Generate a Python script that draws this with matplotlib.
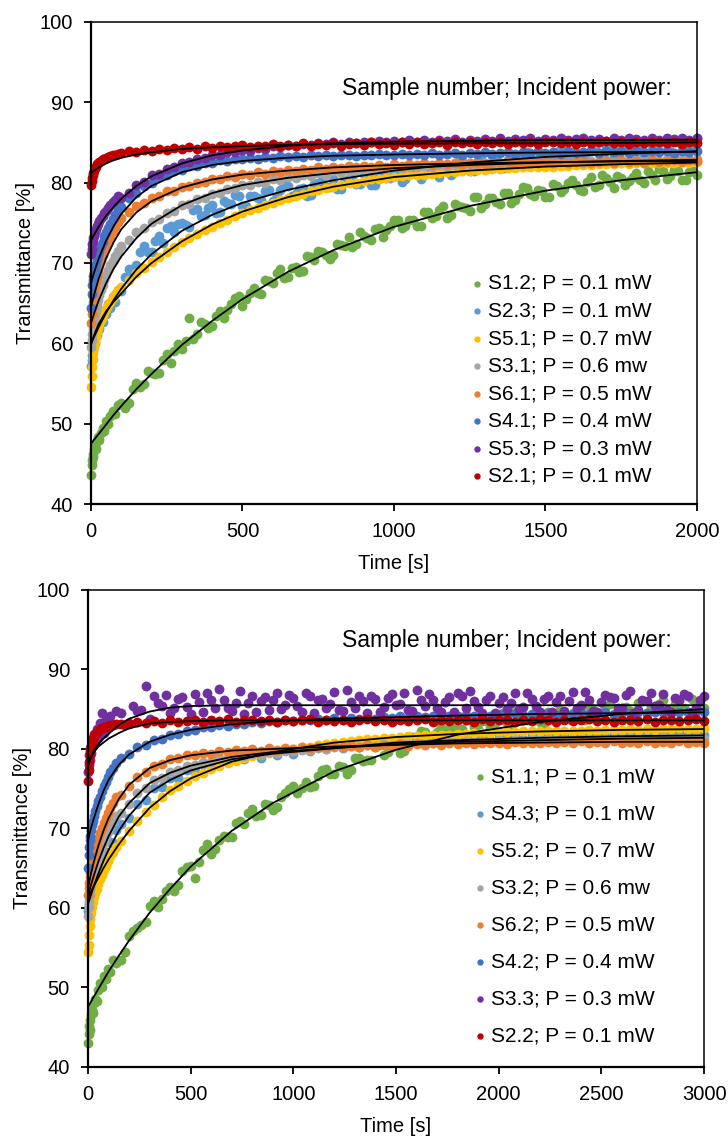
import matplotlib
matplotlib.use("Agg")
import matplotlib.pyplot as plt

plt.rcParams['font.family'] = ['Liberation Sans', 'DejaVu Sans']

# ---------------- top panel (0-2000 s) ----------------
top_time = [0, 2, 4, 6, 8, 10, 13, 16, 20, 24, 28, 33, 38, 44, 50, 57, 64, 72, 80, 90,
            100, 125, 150, 175, 200, 225, 250, 275, 300, 325, 350, 375, 400, 425, 450, 475,
            500, 525, 550, 575, 600, 625, 650, 675, 700, 725, 750, 775, 800, 825, 850, 875,
            900, 925, 950, 975, 1000, 1025, 1050, 1075, 1100, 1125, 1150, 1175, 1200, 1225,
            1250, 1275, 1300, 1325, 1350, 1375, 1400, 1425, 1450, 1475, 1500, 1525, 1550,
            1575, 1600, 1625, 1650, 1675, 1700, 1725, 1750, 1775, 1800, 1825, 1850, 1875,
            1900, 1925, 1950, 1975, 2000]
# extra readings of the two noisiest top series, in between the main ones
top_time_mid = [112.5, 137.5, 162.5, 187.5, 212.5, 237.5, 262.5, 287.5, 312.5, 337.5, 362.5, 387.5,
                412.5, 437.5, 462.5, 487.5, 512.5, 537.5, 562.5, 587.5, 612.5, 637.5, 662.5, 687.5,
                712.5, 737.5, 762.5, 787.5, 812.5, 837.5, 862.5, 887.5, 912.5, 937.5, 962.5, 987.5,
                1012.5, 1037.5, 1062.5, 1087.5, 1112.5, 1137.5, 1162.5, 1187.5, 1212.5, 1237.5,
                1262.5, 1287.5, 1312.5, 1337.5, 1362.5, 1387.5, 1412.5, 1437.5, 1462.5, 1487.5,
                1512.5, 1537.5, 1562.5, 1587.5, 1612.5, 1637.5, 1662.5, 1687.5, 1712.5, 1737.5,
                1762.5, 1787.5, 1812.5, 1837.5, 1862.5, 1887.5, 1912.5, 1937.5, 1962.5, 1987.5]
top_fit_time = [0, 10, 25, 50, 75, 100, 150, 200, 300, 400, 500, 650, 800, 1000, 1250, 1500, 1750, 2000]

top_labels = ["S1.2; P = 0.1 mW", "S2.3; P = 0.1 mW", "S5.1; P = 0.7 mW", "S3.1; P = 0.6 mw",
              "S6.1; P = 0.5 mW", "S4.1; P = 0.4 mW", "S5.3; P = 0.3 mW", "S2.1; P = 0.1 mW"]

top_S12 = [43.6, 44.8, 45.5, 46.2, 45.9, 46.8, 47.3, 46.9, 47.8, 48.4, 48.0, 48.9, 49.4, 49.1, 50.3, 50.0,
           50.9, 51.6, 51.2, 52.3,
           52.6, 52.6, 55.1, 55.0, 56.3, 56.3, 58.7, 59.1, 59.3, 63.2,
           61.1, 62.4, 62.1, 64.0, 64.1, 65.6, 64.7, 66.3, 66.3, 67.9,
           67.5, 69.3, 68.3, 69.5, 69.0, 70.7, 71.5, 71.0, 71.0, 72.3,
           73.2, 72.4, 73.3, 72.8, 74.4, 74.1, 75.4, 74.3, 75.3, 74.6,
           76.3, 75.6, 76.6, 75.6, 77.4, 77.0, 76.5, 78.2, 77.4, 78.1,
           77.3, 78.7, 77.9, 79.4, 78.6, 79.1, 78.2, 79.8, 78.8, 79.9,
           79.7, 79.0, 80.7, 79.7, 80.6, 79.3, 80.6, 80.2, 81.2, 80.0,
           80.9, 81.7, 80.5, 81.6, 80.3, 81.3, 81.0]
top_S12_mid = [52.0, 54.3, 54.6, 56.5, 56.2, 57.9, 57.6, 59.9, 60.3, 60.6,
               62.6, 61.9, 63.4, 63.1, 64.9, 65.9, 65.5, 66.9, 66.1, 67.7,
               68.7, 68.1, 69.4, 68.9, 70.9, 70.4, 71.4, 70.5, 72.4, 72.1,
               72.0, 73.9, 73.1, 74.2, 73.2, 74.6, 75.4, 74.6, 75.4, 74.6,
               76.3, 75.9, 77.1, 76.0, 77.1, 76.9, 78.2, 76.8, 78.1, 77.6,
               78.7, 77.5, 78.6, 79.3, 78.3, 79.0, 78.2, 79.6, 79.2, 80.3,
               79.1, 80.1, 79.5, 80.9, 80.1, 80.8, 79.7, 80.7, 80.3, 81.5,
               80.3, 81.5, 80.8, 81.5, 80.3, 81.5]
top_S23 = [57.2, 58.6, 57.9, 59.8, 59.2, 60.5, 60.1, 61.4, 61.0, 62.3, 61.8, 63.2, 62.7, 64.0, 63.6, 64.9,
           64.4, 65.8, 65.2, 66.7,
           66.5, 69.3, 69.8, 72.1, 71.4, 73.3, 74.3, 73.9, 75.0, 74.5,
           76.7, 76.0, 77.2, 76.4, 77.5, 78.5, 77.1, 78.4, 78.1, 79.0,
           77.7, 79.1, 79.6, 78.6, 79.3, 78.5, 80.0, 79.4, 80.5, 79.2,
           80.4, 79.8, 81.1, 79.7, 80.7, 80.6, 81.4, 80.1, 81.4, 81.9,
           80.9, 81.6, 80.7, 82.2, 81.6, 82.7, 81.4, 82.6, 82.0, 83.3,
           82.0, 82.8, 81.9, 83.4, 83.0, 82.3, 83.5, 83.0, 84.2, 82.9,
           83.7, 82.6, 84.1, 83.6, 84.4, 83.2, 84.1, 83.7, 84.8, 83.6,
           84.7, 84.0, 85.2, 83.6, 84.7, 84.1, 85.6]
top_S23_mid = [68.2, 68.7, 71.4, 71.4, 72.7, 72.5, 74.6, 74.8, 74.7, 76.6,
               75.9, 76.8, 76.2, 77.7, 77.3, 78.4, 77.1, 78.3, 77.9, 79.1,
               78.4, 79.7, 78.4, 79.2, 78.4, 79.8, 80.2, 79.5, 79.2, 80.2,
               80.8, 79.8, 80.4, 79.7, 81.1, 80.6, 81.8, 80.5, 81.3, 80.5,
               82.0, 81.2, 82.0, 80.9, 82.6, 82.1, 81.5, 83.0, 82.1, 82.7,
               81.8, 83.2, 82.4, 83.8, 82.8, 83.2, 82.3, 83.8, 82.8, 83.8,
               83.6, 82.8, 84.4, 83.4, 84.3, 82.9, 84.2, 83.8, 84.7, 83.5,
               84.4, 85.1, 83.9, 85.0, 83.6, 84.6]
top_S51 = [54.6, 55.9, 57.1, 58.0, 58.8, 59.5, 60.2, 60.8, 61.4, 61.9, 62.4, 62.9, 63.4, 63.9, 64.3, 64.8,
           65.2, 65.7, 66.1, 66.6,
           67.0, 67.9, 68.8, 69.4, 70.1, 70.7, 71.4, 72.0, 72.6, 73.1,
           73.6, 74.1, 74.5, 75.0, 75.4, 75.8, 76.2, 76.6, 76.9, 77.2,
           77.5, 77.8, 78.1, 78.3, 78.6, 78.9, 79.1, 79.3, 79.5, 79.7,
           79.9, 80.0, 80.2, 80.4, 80.5, 80.6, 80.7, 80.8, 80.9, 81.0,
           81.0, 81.1, 81.2, 81.3, 81.3, 81.4, 81.5, 81.6, 81.6, 81.7,
           81.7, 81.8, 81.8, 81.9, 81.9, 82.0, 82.0, 82.0, 82.1, 82.1,
           82.2, 82.2, 82.2, 82.3, 82.3, 82.3, 82.4, 82.3, 82.4, 82.4,
           82.5, 82.4, 82.5, 82.5, 82.6, 82.5, 82.6]
top_S31 = [59.5, 60.4, 61.1, 61.8, 62.4, 62.9, 63.5, 64.1, 64.8, 65.4, 66.0, 66.6, 67.2, 67.9, 68.5, 69.1,
           69.7, 70.3, 70.9, 71.5,
           72.1, 72.8, 73.8, 74.3, 75.1, 75.5, 76.2, 76.5, 77.2, 77.4,
           78.0, 78.1, 78.6, 78.7, 79.2, 79.3, 79.7, 79.7, 80.1, 80.0,
           80.4, 80.3, 80.7, 80.6, 81.0, 80.8, 81.2, 81.0, 81.4, 81.2,
           81.5, 81.4, 81.7, 81.5, 81.8, 81.7, 81.9, 81.8, 82.0, 81.9,
           82.1, 81.9, 82.2, 82.0, 82.2, 82.1, 82.3, 82.2, 82.4, 82.2,
           82.4, 82.3, 82.5, 82.3, 82.5, 82.4, 82.6, 82.4, 82.6, 82.5,
           82.7, 82.5, 82.7, 82.6, 82.8, 82.6, 82.8, 82.7, 82.9, 82.7,
           82.9, 82.7, 82.9, 82.8, 83.0, 82.8, 82.9]
top_S61 = [62.5, 63.6, 64.4, 65.2, 65.8, 66.3, 67.0, 67.7, 68.4, 69.1, 69.7, 70.4, 71.0, 71.7, 72.3, 72.9,
           73.4, 74.0, 74.5, 75.1,
           75.6, 76.3, 77.1, 77.5, 78.1, 78.3, 78.9, 79.0, 79.5, 79.6,
           80.0, 80.1, 80.5, 80.4, 80.8, 80.7, 81.1, 80.9, 81.3, 81.1,
           81.4, 81.3, 81.6, 81.4, 81.7, 81.6, 81.9, 81.7, 82.0, 81.8,
           82.1, 81.9, 82.1, 82.0, 82.2, 82.0, 82.3, 82.1, 82.3, 82.2,
           82.4, 82.2, 82.4, 82.3, 82.5, 82.3, 82.4, 82.5, 82.3, 82.5,
           82.4, 82.6, 82.4, 82.5, 82.6, 82.4, 82.6, 82.5, 82.7, 82.4,
           82.6, 82.7, 82.5, 82.6, 82.7, 82.5, 82.8, 82.6, 82.7, 82.5,
           82.8, 82.6, 82.7, 82.8, 82.6, 82.8, 82.7]
top_S41 = [64.4, 66.2, 67.3, 67.9, 68.4, 68.8, 69.3, 69.9, 70.5, 71.0, 71.5, 72.1, 72.6, 73.3, 73.8, 74.4,
           74.9, 75.5, 76.0, 76.6,
           77.0, 78.1, 78.7, 79.6, 80.0, 80.7, 80.9, 81.5, 81.6, 82.1,
           82.1, 82.5, 82.4, 82.8, 82.7, 83.0, 82.9, 83.1, 83.0, 83.2,
           83.1, 83.3, 83.2, 83.3, 83.2, 83.4, 83.3, 83.5, 83.3, 83.4,
           83.5, 83.3, 83.5, 83.4, 83.6, 83.4, 83.5, 83.6, 83.4, 83.6,
           83.5, 83.7, 83.5, 83.6, 83.7, 83.5, 83.7, 83.6, 83.8, 83.6,
           83.7, 83.8, 83.6, 83.8, 83.7, 83.9, 83.7, 83.8, 83.6, 83.9,
           83.7, 83.8, 83.9, 83.7, 83.9, 83.8, 84.0, 83.7, 83.9, 83.8,
           84.0, 83.8, 83.9, 83.7, 84.0, 83.8, 83.9]
top_S53 = [71.1, 71.8, 72.4, 72.7, 73.1, 73.4, 73.8, 74.2, 74.6, 74.9, 75.2, 75.6, 75.9, 76.2, 76.5, 76.9,
           77.2, 77.6, 77.9, 78.3,
           78.1, 78.7, 79.7, 80.1, 80.9, 81.1, 81.7, 81.9, 82.5, 82.6,
           83.0, 83.1, 83.5, 83.4, 83.8, 83.8, 84.1, 84.0, 84.3, 84.2,
           84.5, 84.4, 84.7, 84.6, 84.8, 84.7, 84.9, 84.8, 85.0, 84.8,
           85.1, 84.9, 85.1, 85.0, 85.2, 85.0, 85.2, 85.1, 85.3, 85.0,
           85.3, 85.1, 85.3, 85.2, 85.4, 85.1, 85.3, 85.2, 85.4, 85.2,
           85.5, 85.2, 85.4, 85.3, 85.5, 85.2, 85.4, 85.3, 85.5, 85.3,
           85.4, 85.6, 85.3, 85.4, 85.2, 85.5, 85.3, 85.6, 85.4, 85.3,
           85.5, 85.3, 85.6, 85.4, 85.5, 85.3, 85.5]
top_S21 = [79.7, 80.2, 80.6, 81.0, 81.2, 81.5, 81.8, 82.0, 82.3, 82.4, 82.6, 82.7, 82.9, 83.0, 83.1, 83.2,
           83.3, 83.4, 83.5, 83.6,
           83.7, 83.9, 83.8, 84.1, 83.9, 84.2, 84.1, 84.3, 84.2, 84.4,
           84.2, 84.5, 84.3, 84.6, 84.4, 84.5, 84.7, 84.4, 84.6, 84.5,
           84.8, 84.5, 84.7, 84.6, 84.9, 84.6, 84.8, 84.7, 84.9, 84.6,
           84.8, 84.9, 84.7, 85.0, 84.8, 84.9, 84.7, 85.0, 84.8, 85.1,
           84.8, 84.9, 85.0, 84.7, 85.0, 84.9, 85.1, 84.8, 85.0, 84.9,
           85.1, 84.8, 85.0, 84.9, 85.1, 84.8, 85.0, 85.1, 84.9, 85.0,
           84.8, 85.1, 84.9, 85.0, 85.2, 84.9, 85.0, 84.8, 85.1, 84.9,
           85.0, 85.1, 84.9, 85.0, 84.8, 85.1, 84.9]

top_S12_fit = [47.5, 48.0, 48.7, 49.9, 51.1, 52.2, 54.3, 56.2, 59.8, 62.8, 65.5, 68.9, 71.6, 74.5, 77.1, 79.0, 80.3, 81.3]
top_S23_fit = [60.0, 60.8, 62.0, 63.8, 65.4, 66.8, 69.2, 71.1, 74.0, 76.0, 77.5, 79.1, 80.3, 81.5, 82.5, 83.2, 83.6, 83.9]
top_S51_fit = [59.8, 61.0, 62.4, 64.0, 65.2, 66.2, 68.3, 70.0, 72.7, 74.8, 76.4, 78.2, 79.5, 80.7, 81.5, 82.0, 82.3, 82.5]
top_S31_fit = [62.5, 63.7, 65.3, 67.5, 69.3, 70.8, 73.1, 74.9, 77.2, 78.7, 79.7, 80.6, 81.2, 81.8, 82.2, 82.5, 82.7, 82.85]
top_S61_fit = [64.5, 66.0, 68.0, 70.6, 72.6, 74.2, 76.3, 77.7, 79.4, 80.4, 81.0, 81.5, 81.9, 82.2, 82.4, 82.55, 82.65, 82.7]
top_S41_fit = [67.5, 68.8, 70.5, 72.8, 74.6, 76.1, 78.2, 79.6, 81.3, 82.2, 82.7, 83.1, 83.35, 83.5, 83.65, 83.75, 83.8, 83.85]
top_S53_fit = [72.8, 73.5, 74.5, 75.9, 77.0, 78.0, 79.6, 80.8, 82.4, 83.4, 84.0, 84.6, 84.9, 85.1, 85.2, 85.3, 85.3, 85.35]
top_S21_fit = [81.2, 81.5, 81.9, 82.4, 82.8, 83.1, 83.5, 83.8, 84.2, 84.4, 84.55, 84.7, 84.8, 84.85, 84.9, 84.9, 84.95, 85.0]

# ---------------- bottom panel (0-3000 s) ----------------
bot_time = [0, 3, 6, 9, 12, 16, 20, 25, 30, 36, 42, 50, 58, 67, 76, 86, 96, 108, 120, 135,
            160, 200, 240, 280, 320, 360, 400, 440, 480, 520, 560, 600, 640, 680, 720, 760,
            800, 840, 880, 920, 960, 1000, 1040, 1080, 1120, 1160, 1200, 1240, 1280, 1320,
            1360, 1400, 1440, 1480, 1520, 1560, 1600, 1640, 1680, 1720, 1760, 1800, 1840,
            1880, 1920, 1960, 2000, 2040, 2080, 2120, 2160, 2200, 2240, 2280, 2320, 2360,
            2400, 2440, 2480, 2520, 2560, 2600, 2640, 2680, 2720, 2760, 2800, 2840, 2880,
            2920, 2960, 3000]
bot_time_mid = [180, 220, 260, 300, 340, 380, 420, 460, 500, 540, 580, 620, 660, 700, 740, 780,
                820, 860, 900, 940, 980, 1020, 1060, 1100, 1140, 1180, 1220, 1260, 1300, 1340,
                1380, 1420, 1460, 1500, 1540, 1580, 1620, 1660, 1700, 1740, 1780, 1820, 1860,
                1900, 1940, 1980, 2020, 2060, 2100, 2140, 2180, 2220, 2260, 2300, 2340, 2380,
                2420, 2460, 2500, 2540, 2580, 2620, 2660, 2700, 2740, 2780, 2820, 2860, 2900,
                2940, 2980]
bot_fit_time = [0, 10, 25, 50, 75, 100, 150, 200, 300, 400, 500, 700, 900, 1200, 1500, 1800, 2200, 2600, 3000]

bot_labels = ["S1.1; P = 0.1 mW", "S4.3; P = 0.1 mW", "S5.2; P = 0.7 mW", "S3.2; P = 0.6 mw",
              "S6.2; P = 0.5 mW", "S4.2; P = 0.4 mW", "S3.3; P = 0.3 mW", "S2.2; P = 0.1 mW"]

bot_S11 = [43.0, 44.2, 45.1, 44.6, 45.9, 46.5, 47.2, 46.8, 48.1, 48.6, 48.3, 49.7, 50.6, 50.1, 51.5, 51.1,
           52.3, 52.0, 53.4, 53.1,
           53.5, 56.5, 57.5, 58.2, 60.9, 61.1, 62.7, 62.9, 65.1, 63.8,
           67.3, 66.8, 68.6, 68.9, 70.7, 70.6, 72.5, 71.7, 73.0, 72.7,
           74.5, 75.4, 75.1, 75.2, 76.6, 77.5, 76.8, 77.7, 77.3, 78.9,
           78.6, 80.3, 79.2, 80.2, 79.5, 81.2, 81.1, 82.1, 81.0, 82.8,
           82.5, 82.0, 83.6, 82.8, 83.5, 82.6, 84.0, 83.3, 84.7, 83.9,
           84.3, 83.4, 84.6, 83.7, 84.7, 84.5, 83.8, 85.4, 84.4, 85.3,
           83.9, 85.2, 84.8, 85.8, 84.5, 85.4, 86.2, 84.9, 86.0, 84.6,
           85.6, 85.2]
bot_S11_mid = [54.4, 57.1, 57.8, 60.2, 60.1, 62.1, 62.1, 64.7, 65.3, 65.8,
               68.0, 67.4, 69.1, 68.9, 70.9, 71.9, 71.6, 73.1, 72.3, 74.0,
               75.0, 74.5, 75.8, 75.3, 77.3, 76.8, 77.8, 76.9, 78.8, 78.5,
               78.6, 80.5, 79.6, 80.7, 79.7, 81.5, 82.2, 81.4, 82.1, 81.4,
               83.0, 82.5, 83.7, 82.5, 83.5, 83.3, 84.5, 83.0, 84.3, 83.7,
               84.8, 83.2, 84.3, 84.9, 83.8, 84.5, 83.6, 85.0, 84.5, 85.6,
               84.3, 85.3, 84.6, 86.0, 85.1, 85.7, 84.6, 85.6, 85.1, 86.3,
               85.0]
bot_S43 = [59.6, 60.5, 60.2, 61.3, 60.9, 62.0, 61.8, 62.9, 62.6, 63.8, 63.5, 64.9, 64.6, 66.0, 65.7, 67.1,
           66.9, 68.3, 68.2, 69.8,
           70.5, 71.3, 73.1, 73.6, 75.1, 75.2, 76.4, 76.3, 77.4, 77.2,
           78.1, 77.8, 78.6, 78.3, 79.1, 78.7, 79.4, 78.9, 79.6, 79.2,
           79.9, 79.4, 80.1, 79.7, 80.4, 80.0, 80.6, 80.1, 80.8, 80.3,
           80.9, 80.4, 81.1, 80.6, 81.2, 80.7, 81.3, 80.8, 81.4, 80.9,
           81.4, 81.0, 81.5, 81.1, 81.6, 81.1, 81.7, 81.2, 81.7, 81.3,
           81.8, 81.3, 81.8, 81.4, 81.9, 81.4, 81.9, 81.5, 82.0, 81.5,
           82.0, 81.5, 82.0, 81.6, 82.1, 81.6, 82.0, 81.6, 82.1, 81.7,
           82.1, 81.7]
bot_S52 = [54.5, 55.4, 56.6, 57.7, 58.6, 59.4, 60.1, 60.8, 61.4, 61.9, 62.4, 63.0, 63.6, 64.2, 64.8, 65.3,
           65.9, 66.5, 67.1, 67.7,
           68.4, 69.7, 70.9, 72.1, 73.0, 73.9, 74.8, 75.4, 76.0, 76.6,
           77.0, 77.5, 77.8, 78.2, 78.5, 78.8, 79.1, 79.3, 79.5, 79.7,
           79.9, 80.0, 80.2, 80.3, 80.5, 80.6, 80.8, 80.9, 81.0, 81.1,
           81.2, 81.3, 81.4, 81.4, 81.5, 81.6, 81.6, 81.7, 81.7, 81.8,
           81.8, 81.9, 81.9, 82.0, 82.0, 82.0, 82.1, 82.1, 82.1, 82.2,
           82.2, 82.2, 82.3, 82.2, 82.3, 82.3, 82.3, 82.4, 82.3, 82.4,
           82.4, 82.4, 82.5, 82.4, 82.5, 82.4, 82.5, 82.5, 82.6, 82.5,
           82.5, 82.6]
bot_S32 = [59.0, 60.1, 60.9, 61.6, 62.2, 62.8, 63.4, 63.9, 64.5, 65.1, 65.7, 66.4, 67.0, 67.7, 68.3, 69.0,
           69.6, 70.3, 70.9, 71.6,
           72.0, 73.1, 74.4, 75.1, 76.1, 76.4, 77.1, 77.3, 77.9, 78.0,
           78.4, 78.4, 78.8, 78.8, 79.1, 79.1, 79.4, 79.3, 79.6, 79.5,
           79.8, 79.7, 79.9, 79.9, 80.1, 80.0, 80.3, 80.2, 80.4, 80.3,
           80.5, 80.4, 80.6, 80.5, 80.7, 80.6, 80.8, 80.6, 80.8, 80.7,
           80.9, 80.8, 81.0, 80.8, 81.0, 80.9, 81.1, 80.9, 81.1, 81.0,
           81.1, 81.0, 81.2, 81.0, 81.2, 81.1, 81.3, 81.1, 81.3, 81.2,
           81.3, 81.2, 81.4, 81.2, 81.4, 81.3, 81.5, 81.2, 81.4, 81.3,
           81.5, 81.3]
bot_S62 = [61.6, 62.5, 63.2, 63.9, 64.4, 65.0, 65.6, 66.2, 66.8, 67.4, 68.0, 68.8, 69.4, 70.1, 70.7, 71.3,
           71.9, 72.6, 73.2, 73.9,
           74.2, 75.4, 76.5, 77.1, 77.9, 78.1, 78.7, 78.8, 79.2, 79.2,
           79.5, 79.4, 79.7, 79.6, 79.9, 79.7, 80.0, 79.8, 80.1, 79.9,
           80.1, 80.0, 80.2, 80.1, 80.3, 80.2, 80.4, 80.2, 80.4, 80.3,
           80.5, 80.3, 80.5, 80.4, 80.6, 80.4, 80.6, 80.5, 80.7, 80.5,
           80.7, 80.6, 80.8, 80.6, 80.8, 80.7, 80.8, 80.6, 80.9, 80.7,
           80.8, 80.7, 80.9, 80.7, 80.9, 80.8, 81.0, 80.7, 80.9, 80.8,
           81.0, 80.7, 80.9, 80.8, 81.0, 80.8, 80.9, 80.7, 81.0, 80.8,
           80.9, 80.8]
bot_S42 = [65.0, 66.6, 67.7, 68.5, 69.1, 69.8, 70.4, 71.0, 71.6, 72.2, 72.8, 73.4, 74.0, 74.7, 75.3, 75.9,
           76.5, 77.1, 77.6, 78.2,
           78.9, 79.4, 80.2, 80.5, 81.1, 81.3, 81.8, 81.9, 82.3, 82.4,
           82.7, 82.7, 83.0, 82.9, 83.2, 83.1, 83.4, 83.3, 83.5, 83.4,
           83.6, 83.5, 83.7, 83.6, 83.8, 83.6, 83.9, 83.7, 83.9, 83.8,
           84.0, 83.8, 84.0, 83.9, 84.1, 83.9, 84.1, 84.0, 84.2, 84.0,
           84.2, 84.1, 84.3, 84.1, 84.3, 84.2, 84.4, 84.2, 84.4, 84.3,
           84.4, 84.3, 84.5, 84.3, 84.5, 84.4, 84.6, 84.4, 84.5, 84.6,
           84.4, 84.6, 84.5, 84.7, 84.5, 84.6, 84.7, 84.5, 84.7, 84.6,
           84.8, 84.6]
bot_S33 = [77.1, 78.0, 79.2, 78.6, 80.1, 79.5, 81.2, 80.4, 81.9, 80.8, 82.5, 81.4, 83.3, 84.5, 82.0, 83.6,
           82.7, 84.2, 83.1, 84.8,
           84.5, 83.3, 84.8, 87.9, 86.6, 85.4, 84.5, 86.3, 85.3, 86.9,
           84.7, 86.2, 87.5, 85.1, 85.8, 84.4, 86.6, 86.0, 84.9, 87.1,
           85.5, 86.4, 84.6, 86.7, 86.1, 85.2, 87.2, 84.8, 85.9, 86.6,
           84.5, 86.3, 85.3, 86.9, 85.7, 84.9, 87.4, 85.4, 86.2, 84.7,
           86.5, 87.0, 85.1, 86.0, 84.5, 86.7, 85.8, 85.0, 87.1, 85.3,
           86.3, 84.6, 86.6, 85.9, 84.8, 87.2, 85.5, 86.1, 84.7, 86.8,
           86.4, 85.2, 87.3, 84.9, 86.0, 85.4, 86.9, 84.6, 86.2, 86.6,
           85.1, 86.7]
bot_S33_mid = [83.0, 85.4, 84.9, 83.8, 85.8, 86.8, 85.1, 86.5, 84.4, 85.9,
               87.0, 85.1, 86.2, 84.8, 87.3, 85.8, 84.7, 86.5, 86.1, 85.0,
               86.8, 85.4, 87.1, 84.5, 86.3, 85.7, 84.9, 87.4, 85.2, 86.0,
               86.7, 84.6, 86.4, 85.5, 87.0, 84.8, 86.2, 86.9, 85.1, 85.9,
               84.7, 86.6, 87.3, 85.3, 86.1, 84.5, 86.5, 85.8, 85.0, 87.1,
               85.4, 86.3, 84.6, 86.7, 86.0, 85.2, 87.2, 84.8, 85.9, 86.5,
               85.1, 86.8, 84.5, 86.2, 87.0, 85.5, 84.9, 86.4, 86.9, 84.7,
               86.1]
bot_S22 = [76.0, 77.3, 78.4, 79.2, 79.8, 80.4, 80.9, 81.3, 81.6, 81.9, 82.1, 82.3, 82.5, 82.6, 82.7, 82.8,
           82.9, 83.0, 83.0, 83.1,
           83.2, 83.1, 83.4, 83.3, 83.5, 83.3, 83.6, 83.4, 83.5, 83.7,
           83.4, 83.6, 83.5, 83.8, 83.4, 83.6, 83.7, 83.5, 83.6, 83.4,
           83.7, 83.5, 83.6, 83.8, 83.4, 83.6, 83.5, 83.7, 83.4, 83.6,
           83.8, 83.5, 83.6, 83.4, 83.7, 83.5, 83.6, 83.8, 83.4, 83.6,
           83.5, 83.7, 83.6, 83.4, 83.8, 83.5, 83.6, 83.7, 83.4, 83.6,
           83.5, 83.8, 83.6, 83.4, 83.7, 83.5, 83.6, 83.8, 83.5, 83.6,
           83.4, 83.7, 83.6, 83.5, 83.8, 83.4, 83.6, 83.7, 83.5, 83.6,
           83.8, 83.5]

bot_S11_fit = [47.5, 48.0, 48.7, 49.8, 50.9, 52.0, 54.0, 55.9, 59.4, 62.4, 65.2, 69.7, 73.2, 77.2, 79.9, 81.8, 83.4, 84.4, 85.0]
bot_S43_fit = [60.5, 61.3, 62.5, 64.3, 65.9, 67.3, 69.7, 71.6, 74.5, 76.1, 77.3, 78.7, 79.4, 80.1, 80.8, 81.1, 81.4, 81.6, 81.7]
bot_S52_fit = [61.3, 61.8, 62.6, 63.8, 65.0, 66.1, 68.0, 69.7, 72.6, 74.7, 76.3, 78.4, 79.6, 80.8, 81.5, 81.9, 82.2, 82.4, 82.5]
bot_S32_fit = [61.5, 62.5, 63.8, 65.8, 67.5, 69.0, 71.5, 73.2, 75.7, 77.0, 77.9, 79.0, 79.6, 80.1, 80.6, 80.9, 81.1, 81.3, 81.4]
bot_S62_fit = [62.5, 63.8, 65.5, 67.8, 69.7, 71.3, 73.7, 75.5, 77.6, 78.6, 79.2, 79.8, 80.0, 80.3, 80.5, 80.7, 80.8, 80.9, 80.9]
bot_S42_fit = [68.5, 69.6, 71.0, 73.0, 74.7, 76.1, 78.0, 79.3, 80.9, 81.8, 82.4, 83.1, 83.5, 83.8, 84.0, 84.2, 84.4, 84.5, 84.6]
bot_S33_fit = [78.2, 78.8, 79.6, 80.6, 81.3, 81.9, 83.0, 83.8, 84.7, 85.2, 85.4, 85.5, 85.5, 85.5, 85.5, 85.5, 85.5, 85.5, 85.5]
bot_S22_fit = [77.8, 78.6, 79.5, 80.3, 80.8, 81.3, 82.0, 82.6, 83.2, 83.4, 83.5, 83.6, 83.6, 83.6, 83.6, 83.6, 83.6, 83.6, 83.6]

colors = ["#70AD47", "#5B9BD5", "#FFC000", "#A5A5A5", "#ED7D31", "#4472C4", "#7030A0", "#C00000"]


def draw_panel(ax, t, fit_t, labels, data, extra, fits, xmax, note_xy, leg_xy, leg_space):
    for i, (lab, col, y) in enumerate(zip(labels, colors, data)):
        ax.scatter(t, y, s=50, color=col, linewidths=0, label=lab, zorder=2, clip_on=False)
        if i in extra:
            tx, ty = extra[i]
            ax.scatter(tx, ty, s=50, color=col, linewidths=0, zorder=2, clip_on=False)
    for f in fits:
        ax.plot(fit_t, f, color="black", lw=1.3, zorder=3)
    ax.set_xlim(0, xmax)
    ax.set_ylim(40, 100)
    ax.set_xticks(range(0, xmax + 1, 500))
    ax.set_yticks(range(40, 101, 10))
    for side in ["left", "bottom"]:
        ax.spines[side].set_linewidth(1.6)
    for side in ["top", "right"]:
        ax.spines[side].set_linewidth(1.1)
    ax.tick_params(direction="out", length=5, width=1.3, labelsize=14.5, pad=8)
    ax.set_xlabel("Time [s]", fontsize=14.5, labelpad=9)
    ax.set_ylabel("Transmittance [%]", fontsize=14.5, labelpad=3)
    ax.text(note_xy[0], note_xy[1], "Sample number; Incident power:", transform=ax.transAxes,
            ha="right", va="center", fontsize=16.5)
    ax.legend(loc="upper left", bbox_to_anchor=leg_xy, frameon=False, fontsize=15,
              handlelength=0.6, handletextpad=0.2, labelspacing=leg_space, borderpad=0,
              borderaxespad=0, scatterpoints=1, markerscale=0.65)


fig = plt.figure(figsize=(7.28, 11.38), dpi=100)
ax1 = fig.add_axes([0.125, 0.5571, 0.8324, 0.4236])
ax2 = fig.add_axes([0.1209, 0.0624, 0.8462, 0.4192])

draw_panel(ax1, top_time, top_fit_time, top_labels,
           [top_S12, top_S23, top_S51, top_S31, top_S61, top_S41, top_S53, top_S21],
           {0: (top_time_mid, top_S12_mid), 1: (top_time_mid, top_S23_mid)},
           [top_S12_fit, top_S23_fit, top_S51_fit, top_S31_fit, top_S61_fit, top_S41_fit, top_S53_fit, top_S21_fit],
           2000, (0.959, 0.863), (0.627, 0.4772), 0.41)
draw_panel(ax2, bot_time, bot_fit_time, bot_labels,
           [bot_S11, bot_S43, bot_S52, bot_S32, bot_S62, bot_S42, bot_S33, bot_S22],
           {0: (bot_time_mid, bot_S11_mid), 6: (bot_time_mid, bot_S33_mid)},
           [bot_S11_fit, bot_S43_fit, bot_S52_fit, bot_S32_fit, bot_S62_fit, bot_S42_fit, bot_S33_fit, bot_S22_fit],
           3000, (0.948, 0.895), (0.6266, 0.627), 0.86)

fig.savefig("out.png", dpi=100)
